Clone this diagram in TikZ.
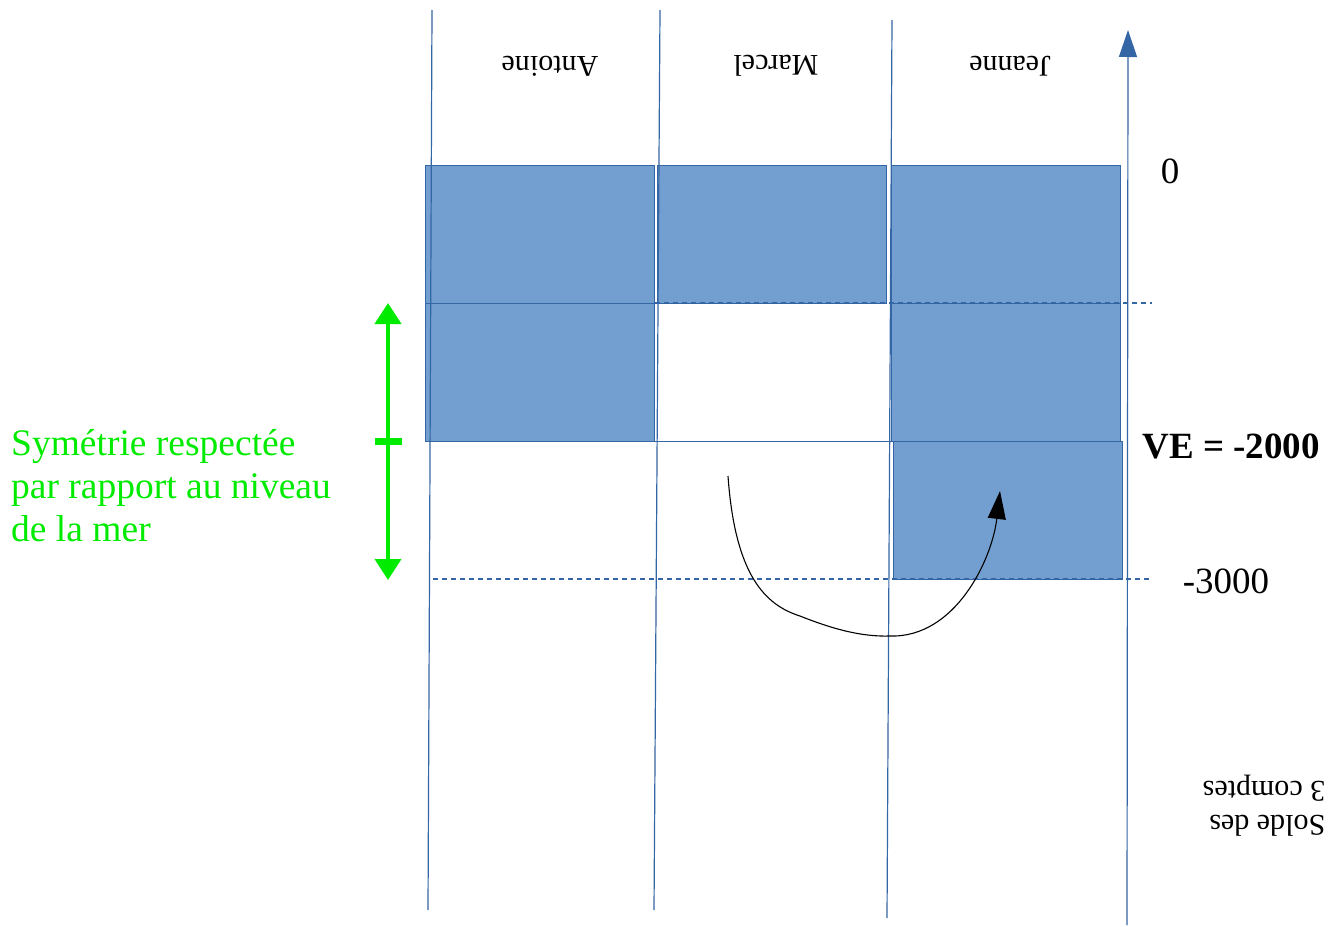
\documentclass[tikz,border=0pt]{standalone}
\usepackage{fontspec}
\setmainfont{Liberation Serif}
\usetikzlibrary{arrows.meta}
\definecolor{cellfill}{RGB}{114,159,207}
\definecolor{celledge}{RGB}{52,101,164}
\definecolor{gline}{RGB}{0,235,0}
\begin{document}
\begin{tikzpicture}[x=1pt,y=1pt,
  cell/.style={draw=celledge,fill=cellfill,line width=0.9,inner sep=0,outer sep=0,minimum width=229,minimum height=138},
  colline/.style={draw=celledge,line width=1.2},
  dashline/.style={draw=celledge,line width=1.1,dash pattern=on 5 off 4},
  lbl/.style={font=\fontsize{30}{34}\selectfont,rotate=180,inner sep=0},
  num/.style={font=\fontsize{37}{43}\selectfont,inner sep=0},
  greentxt/.style={font=\fontsize{37.5}{43}\selectfont,text=gline,align=left,inner sep=0,anchor=north west}]
\useasboundingbox (0,0) rectangle (1335,-926);
% column lines
\coordinate (l1t) at (432,-10); \coordinate (l1b) at (428,-910);
\coordinate (l2t) at (660,-10); \coordinate (l2b) at (654,-910);
\coordinate (l3t) at (892,-20); \coordinate (l3b) at (887,-918);
\coordinate (axb) at (1127,-925); \coordinate (axt) at (1128,-30);
% cells
\node[cell] (a1) at (539.5,-234.5) {};
\node[cell] (a2) at (539.5,-372) {};
\node[cell] (m1) at (771.5,-234) {};
\node[cell] (j1) at (1006,-234) {};
\node[cell] (j2) at (1006,-372) {};
\node[cell] (j3) at (1008,-510) {};
% lines over cells
\draw[colline] (l1t) -- (l1b);
\draw[colline] (l2t) -- (l2b);
\draw[colline] (l3t) -- (l3b);
\draw[colline,-{Triangle[length=27,width=18]}] (axb) -- (axt);
\coordinate (h1a) at (425,-441); \coordinate (h1b) at (892,-441);
\draw[colline,line width=0.9] (h1a) -- (h1b);
\coordinate (d1a) at (655,-303); \coordinate (d1b) at (1152,-303);
\draw[dashline] (d1a) -- (d1b);
\coordinate (d2a) at (433,-579); \coordinate (d2b) at (1152,-579);
\draw[dashline] (d2a) -- (d2b);
% column labels (upside down)
\node[lbl] (antoine) at (550,-66) {Antoine};
\node[lbl] (marcel) at (776,-66) {Marcel};
\node[lbl] (jeanne) at (1010,-66) {Jeanne};
\node[lbl,align=left] (solde) at (1264,-806) {Solde des\\3 comptes};
% values
\node[num] (zero) at (1170,-171) {0};
\node[num,font=\fontsize{37}{43}\selectfont\bfseries] (ve) at (1231,-446) {VE = -2000};
\node[num] (m3000) at (1226,-581) {-3000};
% green arrow
\coordinate (gt) at (388,-303); \coordinate (gb) at (388,-580);
\draw[gline,line width=4,{Triangle[length=21,width=26]}-{Triangle[length=21,width=26]}] (gb) -- (gt);
\node[fill=gline,minimum width=27,minimum height=7,inner sep=0] (tick) at (388,-441) {};
\node[greentxt] (sym) at (11,-429) {Symétrie respectée\\par rapport au niveau\\de la mer};
% curved arrow
\coordinate (cs) at (728,-476);
\coordinate (cm) at (890,-636);
\coordinate (ce) at (1000,-491);
\draw[line width=1.1,-{Triangle[length=28,width=18]}] (cs) .. controls (735,-575) and (765,-605) .. (800,-616) .. controls (830,-628) and (860,-637) .. (cm) .. controls (955,-638) and (992,-560) .. (ce);
\end{tikzpicture}
\end{document}
